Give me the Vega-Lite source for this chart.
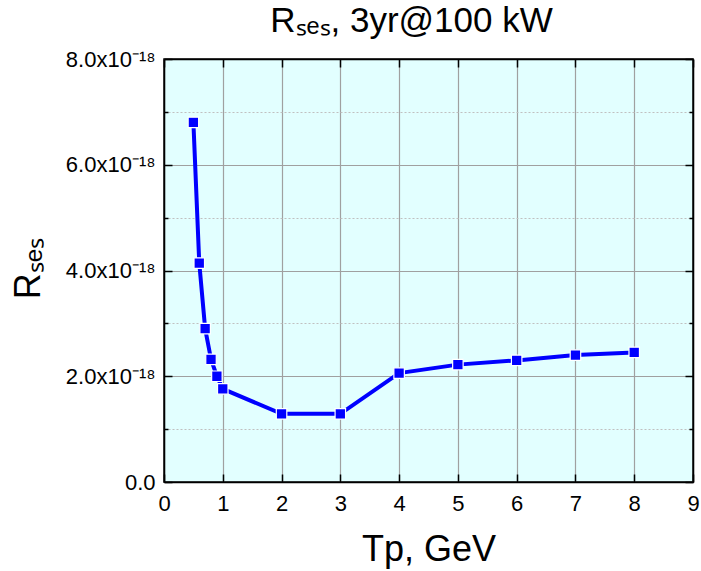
{
  "$schema": "https://vega.github.io/schema/vega-lite/v6.json",
  "width": 529,
  "height": 423,
  "autosize": "none",
  "padding": {"left": 164, "top": 59, "right": 8, "bottom": 89},
  "background": "white",
  "config": {
    "view": {"fill": "#e2ffff", "stroke": "black", "strokeWidth": 1.5},
    "font": "Liberation Sans"
  },
  "title": {
    "text": "Rₛₑₛ, 3yr@100 kW",
    "fontSize": 35,
    "font": "Liberation Sans",
    "fontWeight": "normal",
    "anchor": "middle",
    "dx": -17,
    "offset": -19,
    "baseline": "alphabetic",
    "color": "black"
  },
  "data": {
    "values": [
      {"tp": 0.5, "r": 6.80e-18},
      {"tp": 0.6, "r": 4.14e-18},
      {"tp": 0.7, "r": 2.90e-18},
      {"tp": 0.8, "r": 2.32e-18},
      {"tp": 0.9, "r": 2.00e-18},
      {"tp": 1.0, "r": 1.76e-18},
      {"tp": 2.0, "r": 1.29e-18},
      {"tp": 3.0, "r": 1.29e-18},
      {"tp": 4.0, "r": 2.06e-18},
      {"tp": 5.0, "r": 2.22e-18},
      {"tp": 6.0, "r": 2.30e-18},
      {"tp": 7.0, "r": 2.40e-18},
      {"tp": 8.0, "r": 2.45e-18}
    ]
  },
  "layer": [
    {
      "mark": {
        "type": "line",
        "color": "#0000ff",
        "strokeWidth": 4,
        "point": {"shape": "square", "size": 110, "filled": true, "fill": "#0000ff", "stroke": "white", "strokeWidth": 1.2, "opacity": 1}
      },
      "encoding": {
        "x": {
          "field": "tp",
          "type": "quantitative",
          "scale": {"domain": [0, 9], "nice": false, "zero": false},
          "axis": {
            "orient": "bottom",
            "values": [0, 1, 2, 3, 4, 5, 6, 7, 8, 9],
            "format": "d",
            "grid": true,
            "gridColor": "#a0a0a0",
            "gridWidth": 1.2,
            "domainColor": "black",
            "domainWidth": 1.5,
            "tickColor": "black",
            "tickWidth": 1.5,
            "tickSize": -8,
            "labelPadding": 19,
            "labelFontSize": 22,
            "labelColor": "black",
            "labelFont": "Liberation Sans",
            "labelFlush": false,
            "labelOverlap": false,
            "title": "Tp, GeV",
            "titleFontSize": 36,
            "titleFont": "Liberation Sans",
            "titleFontWeight": "normal",
            "titleColor": "black",
            "titleBaseline": "alphabetic",
            "titleY": 78
          }
        },
        "y": {
          "field": "r",
          "type": "quantitative",
          "scale": {"domain": [0, 8e-18], "nice": false, "zero": true},
          "axis": {
            "orient": "left",
            "values": [0, 1e-18, 2e-18, 3e-18, 4e-18, 5e-18, 6e-18, 7e-18, 8e-18],
            "labelExpr": "round(datum.value*1e18) % 2 == 1 ? '' : (datum.value == 0 ? '0.0' : format(datum.value*1e18, '.1f') + 'x10⁻¹⁸')",
            "grid": true,
            "gridColor": {"condition": {"test": "round(datum.value*1e18) % 2 == 1", "value": "#c0c0c0"}, "value": "#a0a0a0"},
            "gridDash": {"condition": {"test": "round(datum.value*1e18) % 2 == 1", "value": [2, 2]}, "value": []},
            "gridWidth": 1.2,
            "domainColor": "black",
            "domainWidth": 1.5,
            "tickColor": "black",
            "tickWidth": 1.5,
            "tickSize": {"condition": {"test": "round(datum.value*1e18) % 2 == 1", "value": -4}, "value": -8},
            "labelPadding": 17,
            "labelFontSize": 22,
            "labelColor": "black",
            "labelFont": "Liberation Sans",
            "labelFlush": false,
            "labelOverlap": false,
            "labelBaseline": "middle",
            "title": "Rₛₑₛ",
            "titleFontSize": 36,
            "titleFont": "Liberation Sans",
            "titleFontWeight": "normal",
            "titleColor": "black",
            "titleAngle": -90,
            "titleAlign": "center",
            "titleBaseline": "alphabetic",
            "titleX": -125,
            "titleY": 209
          }
        }
      }
    },
    {
      "mark": {"type": "line", "strokeOpacity": 0},
      "encoding": {
        "x": {
          "field": "tp",
          "type": "quantitative",
          "scale": {"domain": [0, 9], "nice": false, "zero": false},
          "axis": {
            "orient": "top",
            "values": [0, 1, 2, 3, 4, 5, 6, 7, 8, 9],
            "grid": false,
            "labels": false,
            "domainColor": "black",
            "domainWidth": 1.5,
            "tickColor": "black",
            "tickWidth": 1.5,
            "tickSize": -8,
            "title": null
          }
        },
        "y": {
          "field": "r",
          "type": "quantitative",
          "scale": {"domain": [0, 8e-18], "nice": false, "zero": true},
          "axis": {
            "orient": "right",
            "values": [0, 1e-18, 2e-18, 3e-18, 4e-18, 5e-18, 6e-18, 7e-18, 8e-18],
            "grid": false,
            "labels": false,
            "domainColor": "black",
            "domainWidth": 1.5,
            "tickColor": "black",
            "tickWidth": 1.5,
            "tickSize": {"condition": {"test": "round(datum.value*1e18) % 2 == 1", "value": -4}, "value": -8},
            "title": null
          }
        }
      }
    }
  ],
  "resolve": {"axis": {"x": "independent", "y": "independent"}}
}
